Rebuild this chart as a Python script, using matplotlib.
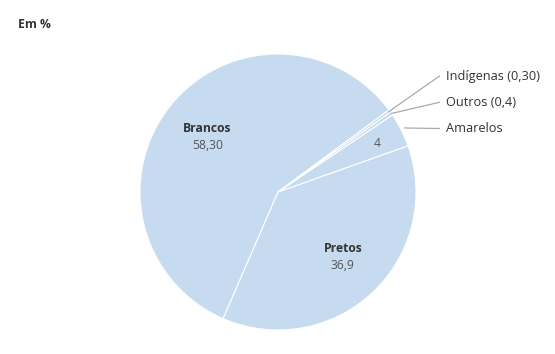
import numpy as np
import matplotlib.pyplot as plt

categories = ["Brancos", "Pretos", "Amarelos", "Outros", "Indígenas"]
values = [58.30, 36.9, 4, 0.4, 0.30]
value_labels = ["58,30", "36,9", "4", "0,4", "0,30"]

fill = "#c6dbf0"
plt.rcParams["font.family"] = ["Open Sans", "DejaVu Sans"]

fig = plt.figure(figsize=(5.55, 3.54), dpi=100)
cx, cy, r = 278, 192, 138
ax = fig.add_axes([(cx - r) / 555, (354 - cy - r) / 354, 2 * r / 555, 2 * r / 354])

wedges, _ = ax.pie(values, startangle=36.5, counterclock=True, colors=[fill] * 5,
                   wedgeprops=dict(edgecolor="white", linewidth=0.8))
ax.set_xlim(-1, 1)
ax.set_ylim(-1, 1)
ax.set_aspect("equal")

# inner labels
ax.text(-0.51, 0.46, "Brancos", ha="center", va="center", fontsize=8.7, fontweight="bold", color="#333333")
ax.text(-0.51, 0.34, value_labels[0], ha="center", va="center", fontsize=8.7, color="#555555")
ax.text(0.47, -0.41, "Pretos", ha="center", va="center", fontsize=8.7, fontweight="bold", color="#333333")
ax.text(0.47, -0.53, value_labels[1], ha="center", va="center", fontsize=8.7, color="#555555")
ax.text(0.72, 0.35, value_labels[2], ha="center", va="center", fontsize=8.7, color="#555555")

# outer labels with leader lines
outer = [
    (2, "Amarelos", 0.46, 1.03),
    (3, "Outros (0,4)", 0.65, 1.0),
    (4, "Indígenas (0,30)", 0.84, 0.99),
]
for i, text, ty, rr in outer:
    w = wedges[i]
    ang = np.deg2rad((w.theta1 + w.theta2) / 2)
    x0, y0 = rr * np.cos(ang), rr * np.sin(ang)
    ax.plot([x0, 1.17], [y0, ty], color="#aaaaaa", lw=0.9, clip_on=False)
    ax.text(1.22, ty, text, ha="left", va="center", fontsize=9.2, color="#333333")

fig.text(18 / 555, 1 - 24 / 354, "Em %", ha="left", va="center", fontsize=8.7, fontweight="bold", color="#333333")

fig.savefig("out.png", dpi=100)
